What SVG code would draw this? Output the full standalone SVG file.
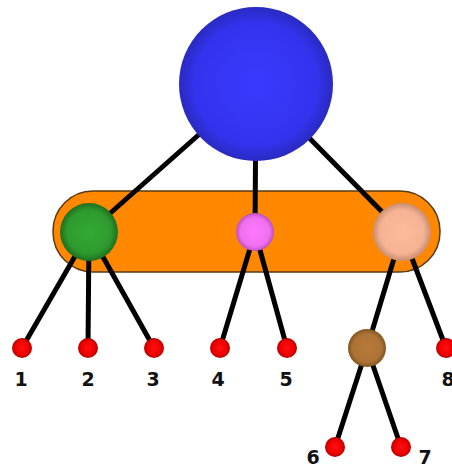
<svg xmlns="http://www.w3.org/2000/svg" width="452" height="467" viewBox="0 0 452 467">
<defs>
<radialGradient id="gBlue" cx="50%" cy="50%" r="50%"><stop offset="0" stop-color="#3a3aff"/><stop offset="0.8" stop-color="#3333ee"/><stop offset="1" stop-color="#2a2ac0"/></radialGradient>
<radialGradient id="gGreen" cx="50%" cy="50%" r="50%"><stop offset="0" stop-color="#33aa33"/><stop offset="0.75" stop-color="#2e9a2e"/><stop offset="1" stop-color="#1f6f1f"/></radialGradient>
<radialGradient id="gPink" cx="50%" cy="50%" r="50%"><stop offset="0" stop-color="#ff77ff"/><stop offset="0.75" stop-color="#f070f0"/><stop offset="1" stop-color="#c050c0"/></radialGradient>
<radialGradient id="gPeach" cx="50%" cy="50%" r="50%"><stop offset="0" stop-color="#ffbb99"/><stop offset="0.75" stop-color="#f5b394"/><stop offset="1" stop-color="#c98e70"/></radialGradient>
<radialGradient id="gBrown" cx="50%" cy="50%" r="50%"><stop offset="0" stop-color="#b87a3a"/><stop offset="0.75" stop-color="#ad7236"/><stop offset="1" stop-color="#80541f"/></radialGradient>
<radialGradient id="gRed" cx="50%" cy="50%" r="50%"><stop offset="0" stop-color="#ff1010"/><stop offset="0.7" stop-color="#ee0000"/><stop offset="1" stop-color="#b00000"/></radialGradient>
</defs>
<style>
.e{stroke:#000;stroke-width:5;stroke-linecap:round;fill:none}
.lbl{font-family:"DejaVu Sans",sans-serif;font-weight:bold;font-size:19px;fill:#111;text-anchor:middle}
</style>
<g id="group"><rect x="53" y="191" width="387" height="81" rx="40" ry="40" fill="#ff8800" stroke="#5a3a10" stroke-width="1.5"/></g>
<g id="connectors">
<line class="e" x1="256" y1="84" x2="89" y2="232"/>
<line class="e" x1="256" y1="84" x2="255" y2="232"/>
<line class="e" x1="256" y1="84" x2="402" y2="232"/>
<line class="e" x1="89" y1="232" x2="22" y2="348"/>
<line class="e" x1="89" y1="232" x2="88" y2="348"/>
<line class="e" x1="89" y1="232" x2="154" y2="348"/>
<line class="e" x1="255" y1="232" x2="220" y2="348"/>
<line class="e" x1="255" y1="232" x2="287" y2="348"/>
<line class="e" x1="402" y1="232" x2="367" y2="348"/>
<line class="e" x1="402" y1="232" x2="446" y2="348"/>
<line class="e" x1="367" y1="348" x2="335" y2="447"/>
<line class="e" x1="367" y1="348" x2="401" y2="447"/>
</g>
<g id="root"><circle cx="256" cy="84" r="77" fill="url(#gBlue)"/></g>
<g id="green"><circle cx="89" cy="232" r="29" fill="url(#gGreen)"/></g>
<g id="pink"><circle cx="255" cy="232" r="19" fill="url(#gPink)"/></g>
<g id="peach"><circle cx="402" cy="232" r="29" fill="url(#gPeach)"/></g>
<g id="brown"><circle cx="367" cy="348" r="19" fill="url(#gBrown)"/></g>
<g id="n1"><circle cx="22" cy="348" r="10" fill="url(#gRed)"/><text class="lbl" x="21" y="386">1</text></g>
<g id="n2"><circle cx="88" cy="348" r="10" fill="url(#gRed)"/><text class="lbl" x="88" y="386">2</text></g>
<g id="n3"><circle cx="154" cy="348" r="10" fill="url(#gRed)"/><text class="lbl" x="153" y="386">3</text></g>
<g id="n4"><circle cx="220" cy="348" r="10" fill="url(#gRed)"/><text class="lbl" x="218" y="386">4</text></g>
<g id="n5"><circle cx="287" cy="348" r="10" fill="url(#gRed)"/><text class="lbl" x="286" y="386">5</text></g>
<g id="n8"><circle cx="446" cy="348" r="10" fill="url(#gRed)"/><text class="lbl" x="448" y="386">8</text></g>
<g id="n6"><circle cx="335" cy="447" r="10" fill="url(#gRed)"/><text class="lbl" x="313" y="464">6</text></g>
<g id="n7"><circle cx="401" cy="447" r="10" fill="url(#gRed)"/><text class="lbl" x="425" y="464">7</text></g>
</svg>
